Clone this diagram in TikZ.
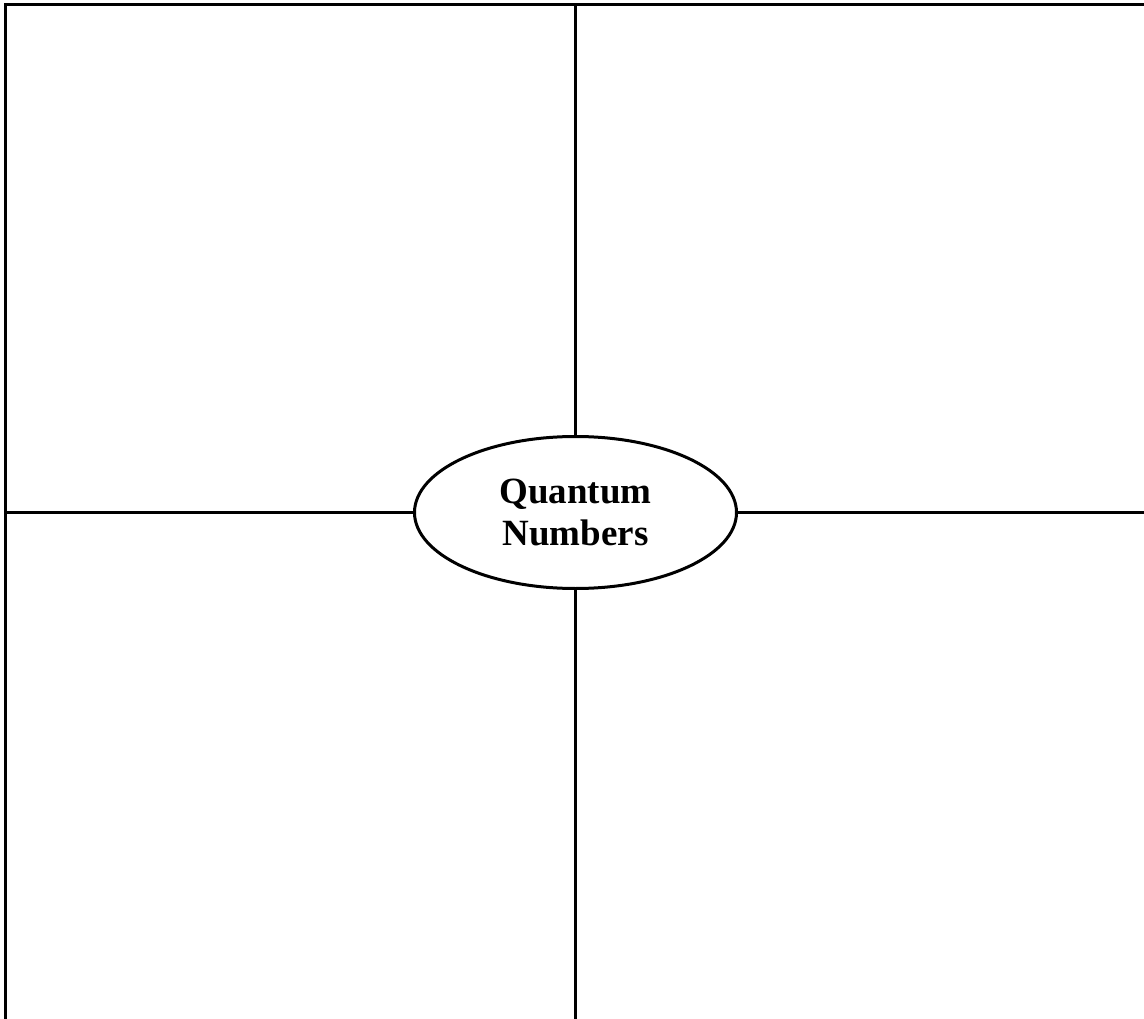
\documentclass[tikz,border=0pt]{standalone}
\usepackage{fontspec}
\setmainfont{Liberation Serif}
\usetikzlibrary{shapes.geometric}
\begin{document}
\begin{tikzpicture}[x=1pt,y=-1pt,line width=3pt,
	topic/.style={ellipse, draw, minimum width=322pt, minimum height=152pt, inner sep=0pt, align=center, font=\fontsize{37}{42}\selectfont\bfseries}]
	\useasboundingbox (0,0) rectangle (1144,1019);
	\coordinate (TL) at (5.5,4.5);
	\coordinate (TR) at (1144,4.5);
	\coordinate (BL) at (5.5,1019);
	\coordinate (TM) at (575.5,4.5);
	\coordinate (BM) at (575.5,1019);
	\coordinate (ML) at (5.5,512.5);
	\coordinate (MR) at (1144,512.5);
	\draw (575.5,512.5) node[topic] (Q) {Quantum\\Numbers};
	\draw (TR) -- (TL) -- (BL);
	\draw (TM) -- (Q);
	\draw (Q) -- (BM);
	\draw (ML) -- (Q);
	\draw (Q) -- (MR);
\end{tikzpicture}
\end{document}
